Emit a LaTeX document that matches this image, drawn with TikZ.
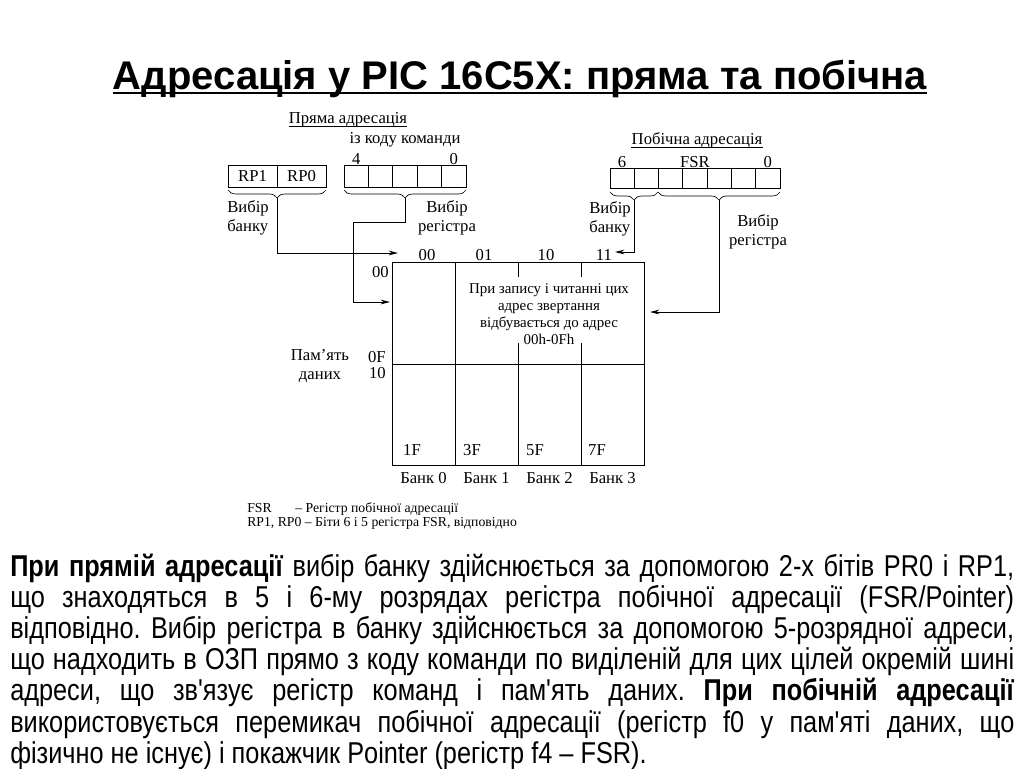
\documentclass[tikz,border=0pt]{standalone}
\usepackage{fontspec}
\setmainfont{Liberation Serif}
\newfontfamily\titlefont{Liberation Sans}
\newfontfamily\arialfont[FakeStretch=0.84]{Liberation Sans}
\usetikzlibrary{arrows.meta,decorations.pathreplacing}

\begin{document}
\begin{tikzpicture}[x=0.75pt,y=-0.75pt]

% definitions
\tikzstyle{lbl} = [inner sep=0pt, font=\fontsize{12.5}{14.5}\selectfont, align=center]
\tikzstyle{cell} = [rectangle, minimum width=18.3pt, minimum height=16.5pt, draw=black, inner sep=0pt, line width=0.6pt, font=\fontsize{12.5}{14.5}\selectfont]
\tikzstyle{note} = [inner sep=0pt, font=\fontsize{11.2}{12.75}\selectfont, align=center]
\tikzstyle{foot} = [inner sep=0pt, anchor=base west, font=\fontsize{10.3}{11}\selectfont]
\tikzstyle{curly} = [decorate, decoration={brace, mirror, amplitude=6pt}, line width=0.5pt]
\tikzstyle{wire} = [line width=0.7pt]
\tikzstyle{arrow} = [-{Stealth[length=7pt,width=3.5pt]}, line width=0.6pt]

\useasboundingbox (0,0) rectangle (1024,768);

% title
\node (title) [anchor=base, inner sep=0pt, font=\titlefont\bfseries\fontsize{30}{36}\selectfont] at (520,89) {Адресація у PIC 16C5X: пряма та побічна};
\draw [line width=1.6pt] ([yshift=-3pt]title.base west) -- ([yshift=-3pt]title.base east);

% direct addressing
\node (dtitle) [lbl] at (348,120) {Пряма адресація};
\draw [line width=0.5pt] ([yshift=-2pt]dtitle.base west) -- ([yshift=-2pt]dtitle.base east);
\node (dsrc) [lbl] at (405,140) {із коду команди};

\node (rp1) [cell, minimum width=36.75pt] at (252.5,176) {RP1};
\node (rp0) [cell, minimum width=36.75pt] at (301.5,176) {RP0};

\foreach \b in {4,...,0}
  \node (d\b) [cell] at ({356.2+(4-\b)*24.4},176) {};
\node (d4num) [lbl, anchor=south] at (d4.north) {4};
\node (d0num) [lbl, anchor=south] at (d0.north) {0};

\draw [curly] (228,190) -- (326,190);
\draw [curly] (344,190) -- (466,190);

\node (bsel1) [lbl, align=left] at (248,218) {Вибір\\банку};
\node (rsel1) [lbl] at (447,218) {Вибір\\регістра};

% indirect addressing
\node (ititle) [lbl] at (697,140) {Побічна адресація};
\draw [line width=0.5pt] ([yshift=-2pt]ititle.base west) -- ([yshift=-2pt]ititle.base east);

\foreach \b in {6,...,0}
  \node (f\b) [cell, minimum width=18.225pt, minimum height=15pt] at ({622.1+(6-\b)*24.3},178) {};
\node (f6num) [lbl, anchor=south] at (f6.north) {6};
\node (fsrnum) [lbl, anchor=south] at (f3.north) {FSR};
\node (f0num) [lbl, anchor=south] at (f0.north) {0};

\draw [curly] (610,192) -- (658,192);
\draw [curly] (658,192) -- (780,192);

\node (bsel2) [lbl, align=left] at (610,219) {Вибір\\банку};
\node (rsel2) [lbl] at (758,232) {Вибір\\регістра};

% data memory
\node (mem) [draw, line width=0.7pt, minimum width=189pt, minimum height=152.25pt, inner sep=0pt] at (518,363.5) {};
\draw [wire] (455,262) -- (455,465);
\draw [wire] (392,364) -- (644,364);
\foreach \x in {518,581} {
  \draw [wire] (\x,262) -- (\x,277);
  \draw [wire] (\x,343) -- (\x,465);
}
\node (note) [note] at (549,314) {При запису і читанні цих\\адрес звертання\\відбувається до адрес\\00h-0Fh};

\foreach \t/\x in {00/427,01/484,10/546,11/604}
  \node (t\t) [lbl] at (\x,255) {\t};

\node (r00) [lbl, anchor=east] at (389,272) {00};
\node (r0F) [lbl, anchor=east] at (386,357) {0F};
\node (r10) [lbl, anchor=east] at (386,373) {10};
\node (memlbl) [lbl] at (320,366) {Пам'ять\\даних};

\foreach \t/\x/\n in {1F/412/0,3F/472/1,5F/535/2,7F/597/3} {
  \node (e\n) [lbl] at (\x,450) {\t};
  \node (b\n) [lbl] at ({423.5+63*\n},478) {Банк \n};
}

% connectors
\coordinate (bank1) at (277,198);
\coordinate (reg1) at (405,198);
\coordinate (bank2) at (634,200);
\coordinate (reg2) at (719,200);
\coordinate (in1) at (398,253);
\coordinate (in2) at (390,302);
\coordinate (in3) at (615,252);
\coordinate (in4) at (650,312);

\draw [arrow] (bank1) |- (in1);
\draw [arrow] (reg1) |- (353,222) |- (in2);
\draw [arrow] (bank2) |- (in3);
\draw [arrow] (reg2) |- (in4);

% footnote
\node (fn1) [foot] at (247,512) {FSR};
\node (fn1b) [foot] at (295,512) {– Регістр побічної адресації};
\node (fn2) [foot] at (247,526) {RP1, RP0 – Біти 6 і 5 регістра FSR, відповідно};

% text
\node (para) [anchor=north west, inner sep=0pt, text width=753pt, align=justify, font=\arialfont\fontsize{22.6}{23.3}\selectfont\frenchspacing] at (10,554) {\textbf{При прямій адресації} вибір банку здійснюється за допомогою 2-х бітів PR0 і RP1,\linebreak що знаходяться в 5 і 6-му розрядах регістра побічної адресації (FSR/Pointer)\linebreak відповідно. Вибір регістра в банку здійснюється за допомогою 5-розрядної адреси,\linebreak що надходить в ОЗП прямо з коду команди по виділеній для цих цілей окремій шині\linebreak адреси, що зв'язує регістр команд і пам'ять даних. \textbf{При побічній адресації}\linebreak використовується перемикач побічної адресації (регістр f0 у пам'яті даних, що\linebreak фізично не існує) і покажчик Pointer (регістр f4 – FSR).};

\end{tikzpicture}
\end{document}
